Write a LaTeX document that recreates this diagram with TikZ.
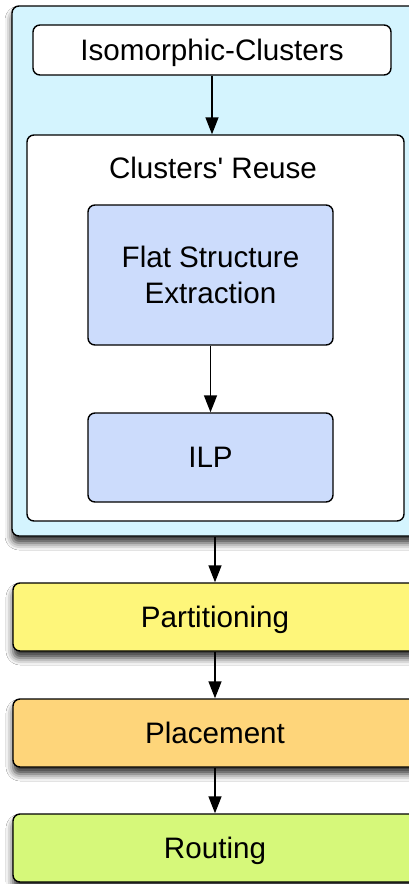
\documentclass[tikz,border=0pt]{standalone}
\usepackage{fontspec}
\setmainfont{Liberation Sans}[Ligatures=TeXOff]
\usetikzlibrary{arrows.meta,shadows.blur}
\definecolor{stagecyan}{HTML}{D4F4FE}
\definecolor{stepblue}{HTML}{CCDCFC}
\definecolor{partyellow}{HTML}{FEF67A}
\definecolor{placeorange}{HTML}{FED57A}
\definecolor{routegreen}{HTML}{D6F87A}
\tikzset{
  box/.style={draw=black, line width=1.4pt, rounded corners=7pt, inner sep=0pt,
    align=center, font=\fontsize{29.6}{36}\selectfont},
  oneline/.style={text height=21pt, text depth=1pt},
  shadowed/.style={blur shadow={shadow xshift=0pt, shadow yshift=-7pt,
    shadow blur radius=7pt, shadow opacity=80}},
  arr/.style={line width=1.5pt, -{Triangle[length=17pt,width=13pt]}},
  lbl/.style={font=\fontsize{29.6}{36}\selectfont, inner sep=0pt},
}
\begin{document}
\begin{tikzpicture}[x=1pt,y=-1pt]
\useasboundingbox (0,0) rectangle (409,884);
\clip (0,0) rectangle (409,884);
\fill[white] (0,0) rectangle (409,884);
% outer stage: clustering and reuse
\node[box, shadowed, fill=stagecyan, minimum width=406pt, minimum height=530pt] (outer) at (215,271) {};
\node[box, oneline, fill=white, minimum width=358pt, minimum height=50pt] (iso) at (212,50) {Isomorphic-Clusters};
\node[box, fill=white, minimum width=377pt, minimum height=386pt] (reuse) at (215.5,328) {};
\node[lbl, anchor=base] (reuselbl) at (213,178) {Clusters' Reuse};
\node[box, fill=stepblue, minimum width=245pt, minimum height=140pt] (flat) at (210.5,275) {Flat Structure\\Extraction};
\node[box, oneline, fill=stepblue, minimum width=245pt, minimum height=89pt] (ilp) at (210.5,457.5) {ILP};
% physical design flow
\node[box, oneline, shadowed, fill=partyellow, minimum width=404pt, minimum height=68pt] (part) at (215,617) {Partitioning};
\node[box, oneline, shadowed, fill=placeorange, minimum width=404pt, minimum height=68pt] (place) at (215,733) {Placement};
\node[box, oneline, shadowed, fill=routegreen, minimum width=404pt, minimum height=68pt] (route) at (215,848) {Routing};
% connectors
\draw[arr] (iso.south -| 212,0) -- (reuse.north -| 212,0);
\draw[arr] (flat.south) -- (ilp.north);
\draw[arr] (outer.south) -- (part.north);
\draw[arr] (part.south) -- (place.north);
\draw[arr] (place.south) -- (route.north);
\end{tikzpicture}
\end{document}
